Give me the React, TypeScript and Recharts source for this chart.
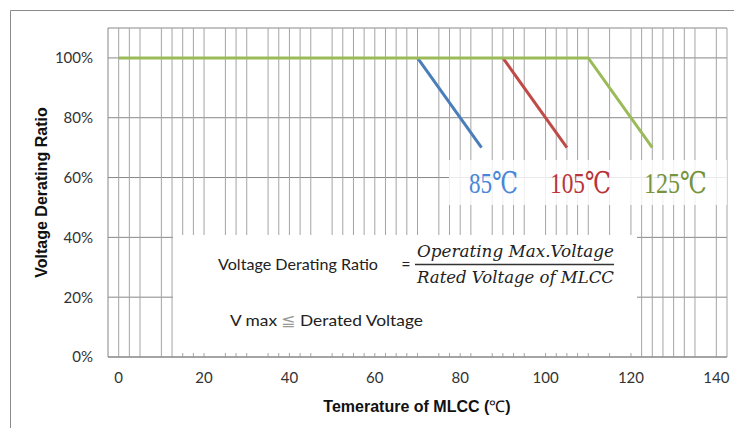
import React from 'react';
import { LineChart, Line, XAxis, YAxis, CartesianGrid, ReferenceLine } from 'recharts';

// Series data (temperature °C -> derating ratio %)
const temps85 = [70, 85];
const ratio85 = [100, 70];
const temps105 = [90, 105];
const ratio105 = [100, 70];
const temps125 = [0, 110, 125];
const ratio125 = [100, 100, 70];

// Axis ticks
const xTicks = [0, 20, 40, 60, 80, 100, 120, 140];
const yTicks = [0, 20, 40, 60, 80, 100];

// Minor vertical gridlines visible in the reference (every 2.5 °C, some absent)
const vGrid = [
  0, 2.5, 5, 10, 12.5, 15, 17.5, 20, 25, 27.5, 30, 35, 37.5, 40, 42.5, 45, 50, 52.5, 55, 57.5,
  60, 62.5, 65, 67.5, 70, 75, 77.5, 80, 82.5, 87.5, 90, 92.5, 95, 100, 102.5, 105, 107.5, 110,
  115, 120, 122.5, 125, 127.5, 130, 132.5, 135, 140, 142.5,
];

const seriesLabels = ['85℃', '105℃', '125℃'];

const toRows = (xs: number[], ys: number[]) => xs.map((t, i) => ({ t, v: ys[i] }));

const data85 = toRows(temps85, ratio85);
const data105 = toRows(temps105, ratio105);
const data125 = toRows(temps125, ratio125);

const tickStyle = { fontFamily: 'Lato, "Open Sans", sans-serif', fontSize: 15, fill: '#333' };

export default function App() {
  return (
    <div style={{ position: 'absolute', left: 0, top: 0, width: 734, height: 428, background: '#fff' }}>
      <LineChart
        width={734}
        height={428}
        margin={{ top: 28, right: 7, bottom: 41, left: 0 }}
      >
        <CartesianGrid vertical={false} stroke="#888" strokeWidth={1} />
        {vGrid.map((g) => (
          <ReferenceLine key={g} x={g} stroke="#a4a4a4" strokeWidth={1} />
        ))}
        <XAxis
          type="number"
          dataKey="t"
          domain={[-2.5, 142.5]}
          ticks={xTicks}
          allowDataOverflow
          height={30}
          tickLine={false}
          tickSize={0}
          tickMargin={15}
          axisLine={{ stroke: '#868686' }}
          tick={tickStyle}
        />
        <YAxis
          type="number"
          dataKey="v"
          domain={[0, 110]}
          ticks={yTicks}
          allowDataOverflow
          width={108}
          tickLine={false}
          tickSize={0}
          tickMargin={15}
          axisLine={{ stroke: '#868686' }}
          tick={tickStyle}
          tickFormatter={(v: number) => `${v}%`}
        />
        <Line data={data85} dataKey="v" stroke="#4a7ebb" strokeWidth={3} dot={false} isAnimationActive={false} />
        <Line data={data105} dataKey="v" stroke="#be4b48" strokeWidth={3} dot={false} isAnimationActive={false} />
        <Line data={data125} dataKey="v" stroke="#9bbb59" strokeWidth={3} dot={false} isAnimationActive={false} />
      </LineChart>
      <svg
        width={734}
        height={428}
        style={{ position: 'absolute', left: 0, top: 0, pointerEvents: 'none' }}
      >
        <path d="M10.5 428 V10.5 H734" fill="none" stroke="#8a8a8a" strokeWidth={1} />
        {/* label box (semi-transparent) */}
        <rect x={449} y={160} width={278} height={45} fill="#fff" fillOpacity={0.82} />
        {/* formula box */}
        <rect x={173} y={235} width={464} height={118} fill="#fff" />
        <text x={469} y={193} fontFamily='"Liberation Serif", "DejaVu Serif", serif' fontSize={30} fill="#4a86d8" textLength={49} lengthAdjust="spacingAndGlyphs">{seriesLabels[0]}</text>
        <text x={550} y={193} fontFamily='"Liberation Serif", "DejaVu Serif", serif' fontSize={30} fill="#b8353a" textLength={61} lengthAdjust="spacingAndGlyphs">{seriesLabels[1]}</text>
        <text x={644} y={193} fontFamily='"Liberation Serif", "DejaVu Serif", serif' fontSize={30} fill="#77933c" textLength={63} lengthAdjust="spacingAndGlyphs">{seriesLabels[2]}</text>

        <text x={218} y={270} fontFamily='Lato, "Open Sans", sans-serif' fontSize={16} fill="#222" textLength={160} lengthAdjust="spacingAndGlyphs">Voltage Derating Ratio</text>
        <text x={406} y={270} textAnchor="middle" fontFamily='Lato, "Open Sans", sans-serif' fontSize={16} fill="#222">=</text>
        <text x={417} y={257} fontFamily='"DejaVu Serif", "Liberation Serif", serif' fontStyle="italic" fontSize={16} fill="#222" textLength={197} lengthAdjust="spacingAndGlyphs">Operating Max.Voltage</text>
        <line x1={415} x2={614} y1={264.5} y2={264.5} stroke="#333" strokeWidth={1.3} />
        <text x={417} y={283} fontFamily='"DejaVu Serif", "Liberation Serif", serif' fontStyle="italic" fontSize={16} fill="#222" textLength={197} lengthAdjust="spacingAndGlyphs">Rated Voltage of MLCC</text>
        <text x={230} y={326} fontFamily='Lato, "Open Sans", sans-serif' fontSize={16} fill="#222" textLength={193} lengthAdjust="spacingAndGlyphs">
          V max <tspan fill="#999">≦</tspan> Derated Voltage
        </text>

        <text
          x={47}
          y={192.5}
          transform="rotate(-90 47 192.5)"
          textAnchor="middle"
          fontFamily='"Liberation Sans", Arial, sans-serif'
          fontWeight="bold"
          fontSize={16}
          fill="#111"
        >
          Voltage Derating Ratio
        </text>
        <text
          x={417}
          y={412}
          textAnchor="middle"
          fontFamily='"Liberation Sans", Arial, sans-serif'
          fontWeight="bold"
          fontSize={16}
          fill="#111"
        >
          Temerature of MLCC (<tspan fontWeight="normal">℃</tspan>)
        </text>
      </svg>
    </div>
  );
}
